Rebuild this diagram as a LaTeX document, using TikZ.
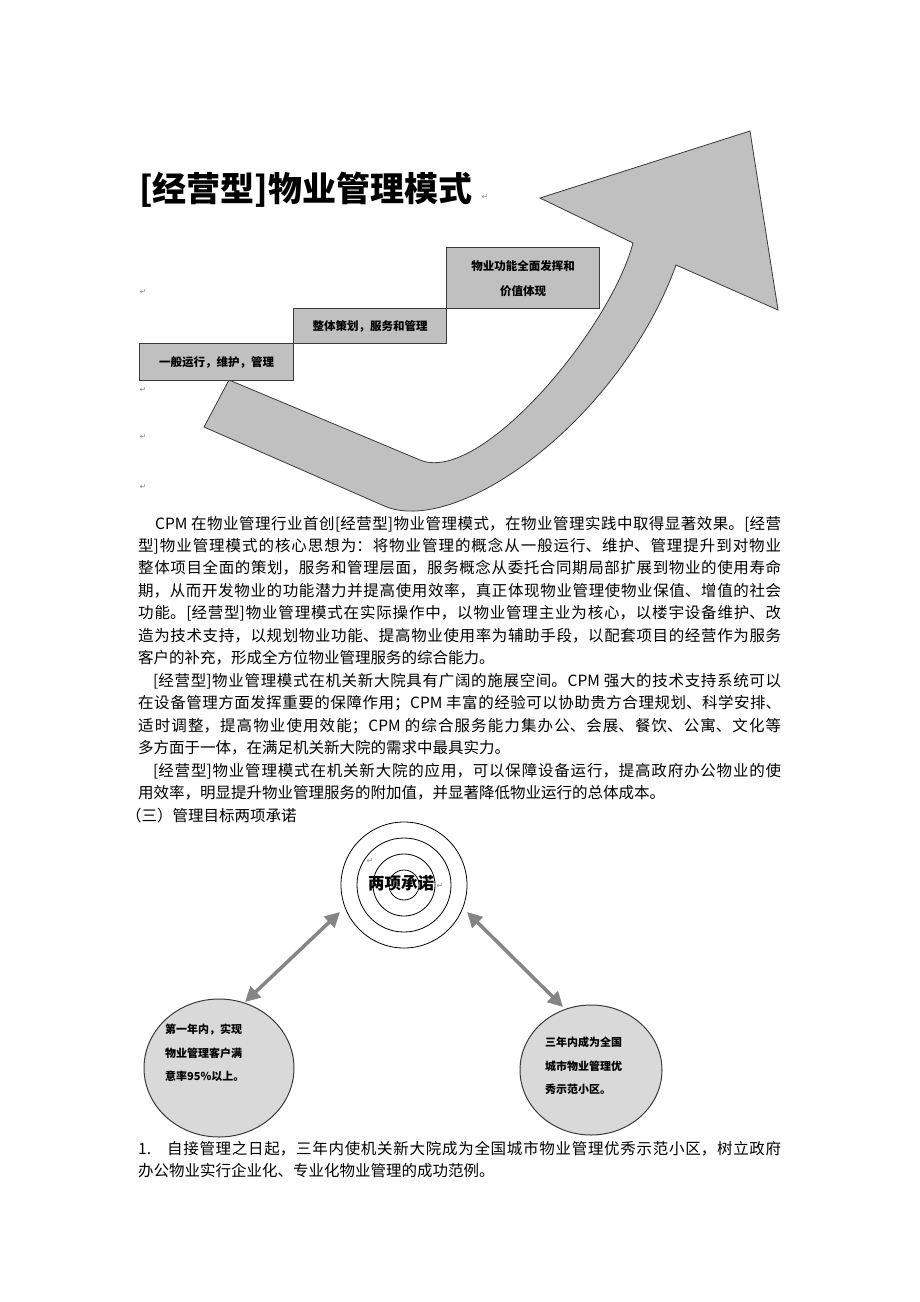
\documentclass[tikz,border=0pt]{standalone}
\usepackage{fontspec}
\setmainfont{Noto Sans CJK SC}
\newfontfamily\symf{DejaVu Sans}
\usetikzlibrary{arrows.meta,shapes.geometric}
\XeTeXlinebreaklocale "zh"
\XeTeXlinebreakskip = 0pt plus 3pt
\definecolor{boxgray}{HTML}{C0C0C0}
\definecolor{boxline}{HTML}{3A3A3A}
\definecolor{circgray}{HTML}{D9D9D9}
\definecolor{conngray}{HTML}{858585}
\definecolor{markgray}{HTML}{8C8C8C}
\tikzset{
  stepbox/.style={draw=boxline, fill=boxgray, line width=1.3pt, inner sep=0pt, anchor=north west, align=center, font=\fontsize{11.5}{25}\selectfont\bfseries},
  pmark/.style={font=\symf\fontsize{8}{8}\selectfont, text=markgray, inner sep=0pt},
  para/.style={text width=643pt, align=justify, anchor=base west, inner sep=0pt, font=\fontsize{15.5}{22.46}\selectfont},
  ring/.style={draw=black, line width=0.8pt, circle, inner sep=0pt},
  goal/.style={draw=boxline, fill=circgray, line width=1pt, ellipse, inner sep=0pt},
  goaltext/.style={anchor=north west, inner sep=0pt, align=left, font=\fontsize{11}{23.5}\selectfont\bfseries},
  conn/.style={draw=conngray, line width=3.5pt, {Triangle[length=15pt,width=15pt]}-{Triangle[length=15pt,width=15pt]}}
}
\begin{document}
\begin{tikzpicture}[x=1pt,y=-1pt]
\useasboundingbox (0,0) rectangle (920,1302);
\fill[white] (0,0) rectangle (920,1302);

% title
\node[anchor=base west, inner sep=0pt, font=\fontsize{34}{38}\selectfont\bfseries] (title) at (139,201) {[经营型]物业管理模式};
\node[pmark] (pm0) at (485,197) {↵};

% big rising arrow
\filldraw[fill=boxgray, draw=boxline, line width=0.8pt]
  (229,380) -- (204,427) -- (382,505)
  .. controls (455,540) and (620,420) .. (676,265)
  -- (778,310) -- (750,131) -- (540,198) -- (633,243)
  .. controls (610,330) and (480,485) .. (420,460) -- cycle;

% step boxes
\node[stepbox, minimum width=154pt, minimum height=37pt] (b1) at (139,343) {一般运行，维护，管理};
\node[stepbox, minimum width=153pt, minimum height=35pt] (b2) at (293,308) {整体策划，服务和管理};
\node[stepbox, minimum width=153pt, minimum height=61pt] (b3) at (446,247) {物业功能全面发挥和\\价值体现};

% paragraph marks
\node[pmark] (pm1) at (143,292) {↵};
\node[pmark] (pm2) at (143,390) {↵};
\node[pmark] (pm3) at (143,437) {↵};
\node[pmark] (pm4) at (143,487) {↵};

% body text
\node[para] (p1) at (138,529) {\hspace*{17pt}CPM 在物业管理行业首创[经营型]物业管理模式，在物业管理实践中取得显著效果。[经营\linebreak
型]物业管理模式的核心思想为：将物业管理的概念从一般运行、维护、管理提升到对物业\linebreak
整体项目全面的策划，服务和管理层面，服务概念从委托合同期局部扩展到物业的使用寿命\linebreak
期，从而开发物业的功能潜力并提高使用效率，真正体现物业管理使物业保值、增值的社会\linebreak
功能。[经营型]物业管理模式在实际操作中，以物业管理主业为核心，以楼宇设备维护、改\linebreak
造为技术支持，以规划物业功能、提高物业使用率为辅助手段，以配套项目的经营作为服务\linebreak
客户的补充，形成全方位物业管理服务的综合能力。};

\node[para] (p2) at (138,686.2) {\hspace*{15pt}[经营型]物业管理模式在机关新大院具有广阔的施展空间。CPM 强大的技术支持系统可以\linebreak
在设备管理方面发挥重要的保障作用；CPM 丰富的经验可以协助贵方合理规划、科学安排、\linebreak
适时调整，提高物业使用效能；CPM 的综合服务能力集办公、会展、餐饮、公寓、文化等\linebreak
多方面于一体，在满足机关新大院的需求中最具实力。};

\node[para] (p3) at (138,776) {\hspace*{15pt}[经营型]物业管理模式在机关新大院的应用，可以保障设备运行，提高政府办公物业的使\linebreak
用效率，明显提升物业管理服务的附加值，并显著降低物业运行的总体成本。};

\node[anchor=base west, inner sep=0pt, font=\fontsize{15.5}{22.46}\selectfont] (h3) at (126,821) {（三）管理目标两项承诺};

% target rings
\node[ring, minimum size=126pt] (ct) at (404,885) {};
\node[ring, minimum size=94pt] (r2) at (404,885) {};
\node[ring, minimum size=62pt] (r3) at (404,885) {};
\node[ring, minimum size=30pt] (r4) at (404,885) {};
\node[inner sep=0pt, font=\fontsize{16.5}{20}\selectfont\bfseries] (tt) at (401,883) {两项承诺};
\node[pmark] (pm5) at (440,886) {↵};
\node[pmark] (pm6) at (370,861) {↵};

% goal circles
\node[goal, minimum width=150pt, minimum height=138pt] (cl) at (219,1068) {};
\node[goal, minimum width=142pt, minimum height=130pt] (cr) at (591,1070) {};
\node[goaltext] (tl) at (165,1024) {第一年内，实现\\物业管理客户满\\意率95\%以上。};
\node[goaltext] (tr) at (545,1037) {三年内成为全国\\城市物业管理优\\秀示范小区。};

% connectors
\coordinate (la) at (340,912);
\coordinate (lb) at (245,1002);
\coordinate (ra) at (467,912);
\coordinate (rb) at (563,1007);
\draw[conn] (la) -- (lb);
\draw[conn] (ra) -- (rb);

% closing text
\node[para] (p4) at (138,1154) {1.\hspace{16pt}自接管理之日起，三年内使机关新大院成为全国城市物业管理优秀示范小区，树立政府\linebreak
办公物业实行企业化、专业化物业管理的成功范例。};
\end{tikzpicture}
\end{document}
